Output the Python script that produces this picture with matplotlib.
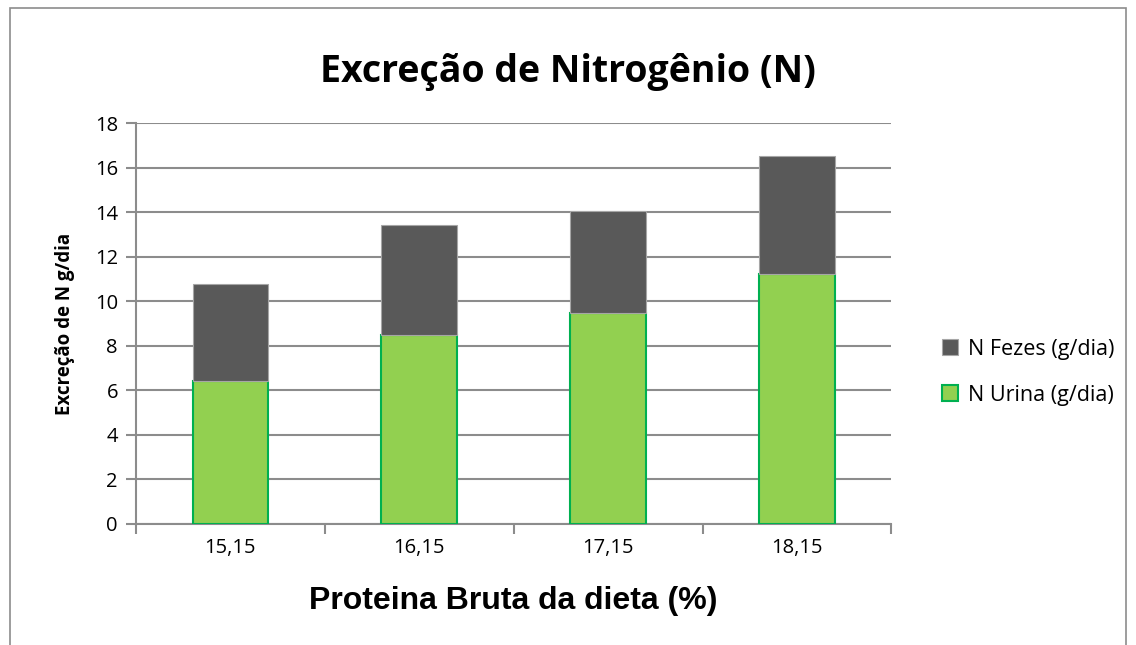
import numpy as np
import matplotlib.pyplot as plt
from matplotlib.patches import Rectangle

categories = ['15,15', '16,15', '17,15', '18,15']
n_urina = [6.43, 8.50, 9.47, 11.24]
n_fezes = [4.33, 4.91, 4.59, 5.28]

green = '#92D050'
green_edge = '#00B050'
dark = '#595959'
grid_c = '#8C8C8C'

fig = plt.figure(figsize=(11.36, 6.45), dpi=100)
ax = fig.add_axes([0.1197, 0.1876, 0.665, 0.6216])

x = np.arange(len(categories))
ax.bar(x, n_urina, width=0.4, color=green, edgecolor=green_edge, linewidth=1.5,
       label='N Urina (g/dia)', zorder=3)
ax.bar(x, n_fezes, width=0.4, bottom=n_urina, color=dark, edgecolor='#A6A6A6',
       linewidth=0.8, label='N Fezes (g/dia)', zorder=3)

ax.set_xlim(-0.5, 3.5)
ax.set_ylim(0, 18)
ax.set_yticks(range(0, 19, 2))
ax.yaxis.grid(True, color=grid_c, linewidth=1.5)
ax.set_axisbelow(True)

ax.set_xticks(x)
ax.set_xticklabels(categories, fontsize=14.5, family='Open Sans')
ax.set_xticks(np.arange(-0.5, 4.0, 1.0), minor=True)
ax.tick_params(axis='x', which='major', length=0, pad=10)
ax.tick_params(axis='x', which='minor', length=7, color=grid_c, width=1.5)
ax.tick_params(axis='y', length=7, color=grid_c, width=1.5, labelsize=14.5, pad=6)
for lbl in ax.get_yticklabels():
    lbl.set_family('Open Sans')

for s in ['top', 'right']:
    ax.spines[s].set_visible(False)
for s in ['left', 'bottom']:
    ax.spines[s].set_color(grid_c)
    ax.spines[s].set_linewidth(1.5)

ax.set_ylabel('Excreção de N g/dia', fontsize=13.5, fontweight='bold', family='Open Sans', labelpad=14)
ax.set_xlabel('Proteina Bruta da dieta (%)', fontsize=23, fontweight='bold',
              family='Liberation Sans', labelpad=20)
fig.text(0.5, 0.888, 'Excreção de Nitrogênio (N)', fontsize=27, fontweight='bold',
         family='Open Sans', ha='center', va='center')

handles, labels = ax.get_legend_handles_labels()
fig.legend(handles[::-1], labels[::-1], loc='center left', bbox_to_anchor=(0.812, 0.423),
           frameon=False, handlelength=0.75, handleheight=0.75,
           handletextpad=0.45, labelspacing=1.15, prop={'family': 'Open Sans', 'size': 15.5})

fig.patches.append(Rectangle((10 / 1136, -0.1), 1116 / 1136, 1.1 - 8 / 645,
                             transform=fig.transFigure, fill=False,
                             edgecolor='#8C8C8C', linewidth=1.2))

fig.savefig('out.png', dpi=100)
